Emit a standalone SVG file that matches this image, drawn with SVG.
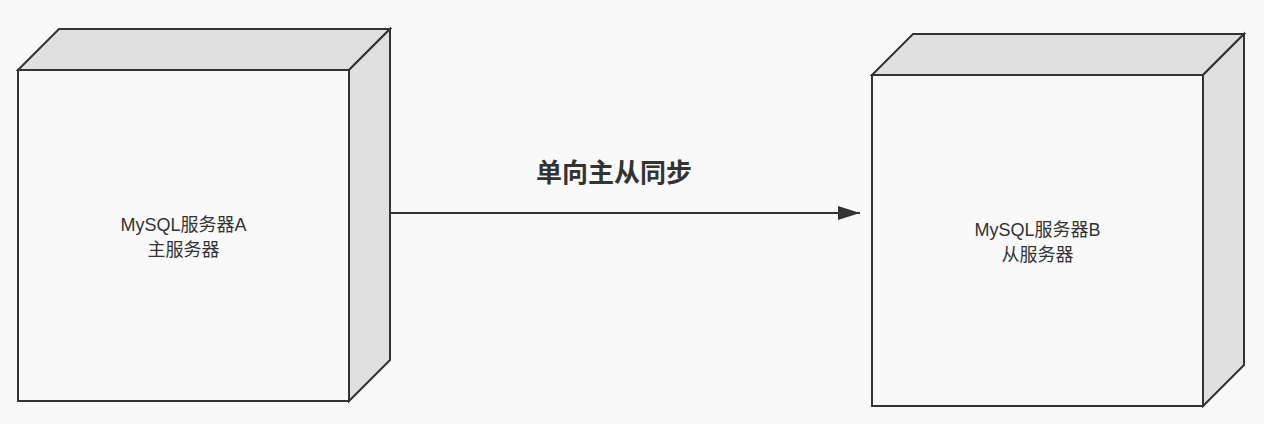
<svg xmlns="http://www.w3.org/2000/svg" width="1264" height="424" viewBox="0 0 1264 424">
<style>
.front{fill:#f9f9f9;stroke:#333;stroke-width:2;stroke-linejoin:miter}
.side{fill:#e0e0e0;stroke:#333;stroke-width:2;stroke-linejoin:miter}
.lbl{font-family:"Liberation Sans","Noto Sans CJK SC",sans-serif;font-size:18px;fill:#333;text-anchor:middle}
.title{font-family:"Liberation Sans","Noto Sans CJK SC",sans-serif;font-size:26px;font-weight:bold;fill:#333;text-anchor:middle}
.conn{stroke:#333;stroke-width:2;fill:none}
</style>
<defs>
<marker id="arrow" markerUnits="userSpaceOnUse" markerWidth="24" markerHeight="16" refX="22" refY="7" orient="auto" viewBox="0 0 24 16">
<path d="M0,0 L22,7 L0,14 Z" fill="#333"/>
</marker>
</defs>
<rect width="1264" height="424" fill="#f9f9f9"/>
<g id="serverA">
<path class="side" d="M18,70 L59,29 L390,29 L349,70 Z"/>
<path class="side" d="M349,70 L390,29 L390,360 L349,401 Z"/>
<rect class="front" x="18" y="70" width="331" height="331"/>
<text class="lbl" x="183.5" y="231">MySQL服务器A</text>
<text class="lbl" x="183.5" y="255.5">主服务器</text>
</g>
<g id="serverB">
<path class="side" d="M872,75 L913,34 L1244,34 L1203,75 Z"/>
<path class="side" d="M1203,75 L1244,34 L1244,365 L1203,406 Z"/>
<rect class="front" x="872" y="75" width="331" height="331"/>
<text class="lbl" x="1037.5" y="236">MySQL服务器B</text>
<text class="lbl" x="1037.5" y="260.5">从服务器</text>
</g>
<g id="connectors">
<line class="conn" x1="391" y1="213" x2="860" y2="213" marker-end="url(#arrow)"/>
<text class="title" x="614" y="182">单向主从同步</text>
</g>
</svg>
